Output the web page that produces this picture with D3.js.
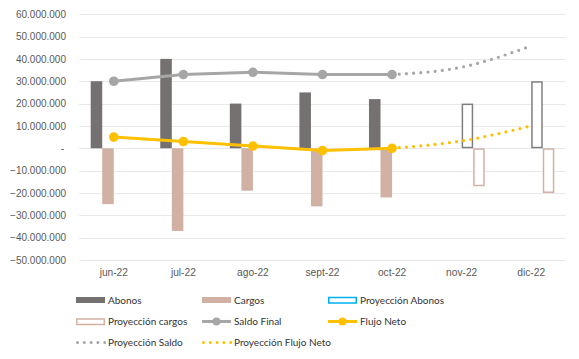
<!DOCTYPE html>
<html><head><meta charset="utf-8">
<script src="https://cdn.jsdelivr.net/npm/d3@7"></script>
<style>
html,body{margin:0;padding:0;background:#fff;}
</style></head>
<body>
<svg id="c" width="579" height="359" font-family="'Liberation Sans',Arial,sans-serif"></svg>
<script>
const categories = ["jun-22","jul-22","ago-22","sept-22","oct-22","nov-22","dic-22"];
const abonos = [30000000, 40000000, 20000000, 25000000, 22000000, null, null];
const cargos = [-25000000, -37000000, -19000000, -26000000, -22000000, null, null];
const proyAbonos = [null, null, null, null, null, 20000000, 30000000];
const proyCargos = [null, null, null, null, null, -17000000, -20000000];
const saldoFinal = [30000000, 33000000, 34000000, 33000000, 33000000, null, null];
const flujoNeto = [5000000, 3000000, 1000000, -1000000, 0, null, null];
const proySaldo = [null, null, null, null, 33000000, 36300000, 45800000];
const proyFlujo = [null, null, null, null, 0, 3300000, 10000000];
const yTicks = [60000000,50000000,40000000,30000000,20000000,10000000,0,-10000000,-20000000,-30000000,-40000000,-50000000];

const svg = d3.select("#c");
const plotL = 79, plotR = 566, plotT = 14.2, plotB = 260;
const x = d3.scaleBand().domain(categories).range([plotL, plotR]).padding(0);
const y = d3.scaleLinear().domain([-50000000, 60000000]).range([plotB, plotT]);
const bw = x.bandwidth();
const slot = 11.55;
const sub = d3.scaleBand().domain(["a","c","pa","pc"]).range([bw/2 - 2*slot, bw/2 + 2*slot]).padding(0);

const loc = d3.formatLocale({decimal:",", thousands:".", grouping:[3], currency:["",""]});
const fmt = loc.format(",.0f");
const axisFont = "'Liberation Sans',Arial,sans-serif";
const legendFont = "Lato,'Liberation Sans',sans-serif";

// grid
svg.append("g").selectAll("line").data(yTicks).join("line")
  .attr("x1", plotL).attr("x2", plotR)
  .attr("y1", d => Math.round(y(d)) + 0.5).attr("y2", d => Math.round(y(d)) + 0.5)
  .attr("stroke", "#E9E9E9").attr("stroke-width", 1);

// y axis
const yAxis = d3.axisLeft(y).tickValues(yTicks).tickSize(0).tickPadding(0)
  .tickFormat(d => d === 0 ? "-" : fmt(d));
const ya = svg.append("g").attr("transform", `translate(${66},0)`).call(yAxis);
ya.select(".domain").remove();
ya.attr("font-family", axisFont).attr("font-size", 10);
ya.selectAll("text").attr("fill", "#595959");
ya.selectAll(".tick").filter(d => d === 0).select("text").attr("dx", -2);

// x axis
const xAxis = d3.axisBottom(x).tickSize(0).tickPadding(0);
const xa = svg.append("g").attr("transform", `translate(0,${269})`).call(xAxis);
xa.select(".domain").remove();
xa.attr("font-family", axisFont).attr("font-size", 10.2);
xa.selectAll("text").attr("fill", "#595959");

function bars(data, key, fill, stroke) {
  const pts = categories.map((c, i) => ({c, v: data[i]})).filter(d => d.v != null);
  const sw = stroke ? 1.5 : 0;
  svg.append("g").selectAll("rect").data(pts).join("rect")
    .attr("x", d => x(d.c) + sub(key) + sw/2)
    .attr("width", sub.bandwidth() - sw)
    .attr("y", d => Math.min(y(d.v), y(0)) + sw/2)
    .attr("height", d => Math.abs(y(d.v) - y(0)) - sw)
    .attr("fill", fill).attr("stroke", stroke || "none").attr("stroke-width", sw);
}
bars(abonos, "a", "#767171");
bars(cargos, "c", "#D2B1A5");
bars(proyAbonos, "pa", "#fff", "#7F7F7F");
bars(proyCargos, "pc", "#fff", "#D2B1A5");

const cx = c => x(c) + bw/2;
function series(data) { return categories.map((c, i) => ({c, v: data[i]})).filter(d => d.v != null); }

function dotted(data, color) {
  const line = d3.line().x(d => cx(d.c)).y(d => y(d.v)).curve(d3.curveMonotoneX);
  svg.append("path").datum(series(data)).attr("d", line)
    .attr("fill", "none").attr("stroke", color).attr("stroke-width", 3.2)
    .attr("stroke-linecap", "round").attr("stroke-dasharray", "0,7.2");
}
dotted(proySaldo, "#A6A6A6");
dotted(proyFlujo, "#FFC000");

function solid(data, color) {
  const line = d3.line().x(d => cx(d.c)).y(d => y(d.v));
  svg.append("path").datum(series(data)).attr("d", line)
    .attr("fill", "none").attr("stroke", color).attr("stroke-width", 3).attr("stroke-linejoin", "round");
  svg.append("g").selectAll("circle").data(series(data)).join("circle")
    .attr("cx", d => cx(d.c)).attr("cy", d => y(d.v)).attr("r", 4.8).attr("fill", color);
}
solid(saldoFinal, "#A6A6A6");
solid(flujoNeto, "#FFC000");

// legend
const legendItems = [
  {label:"Abonos", type:"rect", fill:"#767171"},
  {label:"Cargos", type:"rect", fill:"#D2B1A5"},
  {label:"Proyección Abonos", type:"outline", stroke:"#00B0F0"},
  {label:"Proyección cargos", type:"outline", stroke:"#D2B1A5"},
  {label:"Saldo Final", type:"line", stroke:"#A6A6A6"},
  {label:"Flujo Neto", type:"line", stroke:"#FFC000"},
  {label:"Proyección Saldo", type:"dots", stroke:"#A6A6A6"},
  {label:"Proyección Flujo Neto", type:"dots", stroke:"#FFC000"}
];
const colX = [76, 202, 328], rowY = [300, 321.5, 342.5];
const lg = svg.append("g").attr("font-family", legendFont).attr("font-size", 10);
legendItems.forEach((it, i) => {
  const gx = colX[i % 3], gy = rowY[Math.floor(i / 3)];
  const g = lg.append("g").attr("transform", `translate(${gx},${gy})`);
  if (it.type === "rect") {
    g.append("rect").attr("x", 0).attr("y", -3).attr("width", 29).attr("height", 6).attr("fill", it.fill);
  } else if (it.type === "outline") {
    g.append("rect").attr("x", 0.75).attr("y", -2.5).attr("width", 27.5).attr("height", 5.5)
      .attr("fill", "#fff").attr("stroke", it.stroke).attr("stroke-width", 1.5);
  } else if (it.type === "line") {
    g.append("line").attr("x1", 0).attr("x2", 29).attr("y1", 0).attr("y2", 0)
      .attr("stroke", it.stroke).attr("stroke-width", 3);
    g.append("circle").attr("cx", 14.5).attr("cy", 0).attr("r", 4).attr("fill", it.stroke);
  } else {
    g.append("line").attr("x1", 1.5).attr("x2", 29).attr("y1", 0).attr("y2", 0)
      .attr("stroke", it.stroke).attr("stroke-width", 3).attr("stroke-linecap", "round")
      .attr("stroke-dasharray", "0,6.8");
  }
  g.append("text").attr("x", 32).attr("y", 0).attr("dy", "0.35em")
    .attr("fill", "#333333").text(it.label);
});
</script>
</body></html>
